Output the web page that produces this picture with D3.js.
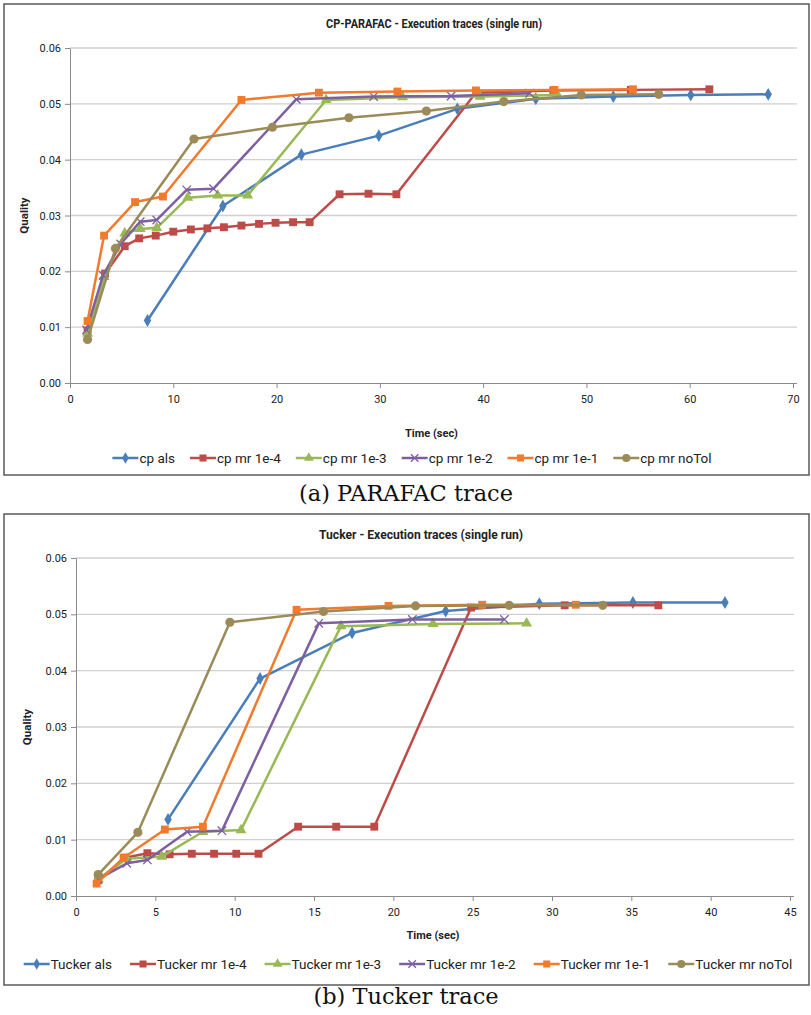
<!DOCTYPE html>
<html>
<head>
<meta charset="utf-8">
<script src="https://cdn.jsdelivr.net/npm/d3@7/dist/d3.min.js"></script>
<style>
  body { margin: 0; background: #fff; }
</style>
</head>
<body>
<div id="chart"></div>
<script>
// ---- PARAFAC trace (time sec, quality) ----
var cpAls    = [[7.5,0.0112],[14.8,0.0317],[22.4,0.0409],[29.9,0.0443],[37.5,0.0491],[45.1,0.0509],[52.6,0.0513],[60.1,0.0516],[67.6,0.0517]];
var cpMr1e4  = [[1.7,0.0094],[3.4,0.0196],[5.3,0.0245],[6.7,0.0259],[8.3,0.0264],[10.0,0.0271],[11.7,0.0275],[13.3,0.0277],[14.9,0.0279],[16.6,0.0282],[18.3,0.0285],[19.9,0.0287],[21.6,0.0288],[23.2,0.0288],[26.1,0.0338],[28.9,0.0339],[31.6,0.0338],[39.3,0.0520],[46.8,0.0524],[54.3,0.0525],[61.9,0.0526]];
var cpMr1e3  = [[1.7,0.0089],[3.3,0.0190],[5.3,0.0268],[6.8,0.0276],[8.4,0.0278],[11.4,0.0332],[14.3,0.0336],[17.2,0.0336],[24.8,0.0507],[32.2,0.0512],[39.7,0.0513],[47.2,0.0516]];
var cpMr1e2  = [[1.6,0.0095],[3.2,0.0193],[4.9,0.0249],[6.8,0.0289],[8.4,0.0292],[11.3,0.0346],[13.9,0.0348],[21.9,0.0508],[29.4,0.0513],[36.9,0.0514],[44.5,0.0519]];
var cpMr1e1  = [[1.7,0.0111],[3.3,0.0264],[6.3,0.0324],[9.0,0.0334],[16.6,0.0507],[24.1,0.0520],[31.7,0.0522],[39.3,0.0524],[46.9,0.0525],[54.5,0.0526]];
var cpMrNoTol= [[1.7,0.0078],[4.4,0.0241],[12.0,0.0437],[19.6,0.0458],[27.0,0.0475],[34.5,0.0487],[42.0,0.0504],[49.5,0.0516],[57.0,0.0517]];

// ---- Tucker trace ----
var tkAls    = [[5.8,0.0136],[11.6,0.0386],[17.4,0.0467],[23.3,0.0506],[29.2,0.0519],[35.1,0.0521],[40.9,0.0521]];
var tkMr1e4  = [[1.4,0.0028],[3.1,0.0068],[4.5,0.0076],[5.9,0.0074],[7.3,0.0075],[8.7,0.0075],[10.1,0.0075],[11.5,0.0075],[14.0,0.0123],[16.4,0.0123],[18.8,0.0123],[24.9,0.0512],[30.8,0.0516],[36.7,0.0516]];
var tkMr1e3  = [[1.4,0.0030],[3.2,0.0066],[5.4,0.0070],[8.0,0.0114],[10.4,0.0117],[16.7,0.0479],[22.5,0.0483],[28.4,0.0484]];
var tkMr1e2  = [[1.4,0.0030],[3.2,0.0058],[4.5,0.0064],[7.0,0.0114],[9.2,0.0116],[15.3,0.0484],[21.2,0.0491],[27.0,0.0491]];
var tkMr1e1  = [[1.3,0.0022],[3.0,0.0068],[5.6,0.0118],[8.0,0.0123],[13.9,0.0508],[19.7,0.0515],[25.6,0.0517],[31.5,0.0517]];
var tkMrNoTol= [[1.4,0.0038],[3.9,0.0113],[9.7,0.0486],[15.6,0.0505],[21.4,0.0515],[27.3,0.0516],[33.2,0.0516]];

var cpNames = ["cp als", "cp mr 1e-4", "cp mr 1e-3", "cp mr 1e-2", "cp mr 1e-1", "cp mr noTol"];
var tkNames = ["Tucker als", "Tucker mr 1e-4", "Tucker mr 1e-3", "Tucker mr 1e-2", "Tucker mr 1e-1", "Tucker mr noTol"];
var yTicks = [0, 0.01, 0.02, 0.03, 0.04, 0.05, 0.06];
var cpXTicks = [0, 10, 20, 30, 40, 50, 60, 70];
var tkXTicks = [0, 5, 10, 15, 20, 25, 30, 35, 40, 45];

var colors  = ["#4a7ebb", "#be4b48", "#98b954", "#7d60a0", "#f27a2c", "#9a8b58"];
var markers = ["diamond", "square", "triangle", "x", "square", "circle"];

var font = "Roboto, 'Open Sans', sans-serif";

var svg = d3.select('#chart').append('svg')
    .attr('width', 811)
    .attr('height', 1015);

function symbolFor(kind, scale) {
    scale = scale || 1;
    if (kind === 'diamond') return d3.symbol().type(d3.symbolDiamond).size(48 * scale)();
    if (kind === 'square') return d3.symbol().type(d3.symbolSquare).size(62 * scale)();
    if (kind === 'triangle') return d3.symbol().type(d3.symbolTriangle).size(52 * scale)();
    if (kind === 'x') return d3.symbol().type(d3.symbolX).size(48 * scale)();
    return d3.symbol().type(d3.symbolCircle).size(66 * scale)();
}

function drawMarker(g, kind, color, x, y, scale) {
    var p = g.append('path')
        .attr('d', symbolFor(kind, scale))
        .attr('transform', 'translate(' + x + ',' + y + ')');
    if (kind === 'x') {
        p.attr('fill', 'none').attr('stroke', color).attr('stroke-width', 1.3);
    } else {
        p.attr('fill', color);
    }
}

function drawTrace(cfg) {
    var g = svg.append('g');

    // outer frame
    g.append('rect')
        .attr('x', cfg.frame[0]).attr('y', cfg.frame[1])
        .attr('width', cfg.frame[2]).attr('height', cfg.frame[3])
        .attr('fill', 'none').attr('stroke', '#5a5a5a').attr('stroke-width', 1.5);

    var xScale = d3.scaleLinear().domain([0, cfg.xMax]).range([cfg.left, cfg.right]);
    var yScale = d3.scaleLinear().domain([0, 0.06]).range([cfg.bottom, cfg.top]);

    // gridlines
    g.append('g').selectAll('line')
        .data(yTicks.slice(1))
        .enter().append('line')
        .attr('x1', cfg.left).attr('x2', cfg.gridRight)
        .attr('y1', d => yScale(d)).attr('y2', d => yScale(d))
        .attr('stroke', '#d0d0d0').attr('stroke-width', 1.4);

    var yAxis = d3.axisLeft(yScale).tickValues(yTicks).tickFormat(d3.format('.2f'))
        .tickSizeInner(5).tickSizeOuter(0).tickPadding(4);
    var yAxisGroup = g.append('g').attr('transform', 'translate(' + cfg.left + ',0)').call(yAxis);
    yAxisGroup.selectAll('path').attr('stroke', '#8a8a8a');
    yAxisGroup.selectAll('line').attr('stroke', '#8a8a8a');
    yAxisGroup.selectAll('text').attr('fill', '#222').attr('font-size', 11).attr('font-family', font);

    var xAxis = d3.axisBottom(xScale).tickValues(cfg.xTicks).tickFormat(d3.format('d'))
        .tickSizeInner(5).tickSizeOuter(0).tickPadding(7);
    var xAxisGroup = g.append('g').attr('transform', 'translate(0,' + cfg.bottom + ')').call(xAxis);
    xAxisGroup.select('.domain').attr('d', 'M' + cfg.left + ',0.5H' + cfg.gridRight);
    xAxisGroup.selectAll('path').attr('stroke', '#8a8a8a');
    xAxisGroup.selectAll('line').attr('stroke', '#8a8a8a');
    xAxisGroup.selectAll('text').attr('fill', '#222').attr('font-size', 11).attr('font-family', font);

    // titles (Calibri-like narrow look)
    g.append('text')
        .attr('x', cfg.titleX).attr('y', cfg.titleY)
        .attr('text-anchor', 'middle')
        .attr('font-family', font).attr('font-weight', 'bold').attr('font-size', 12.5)
        .attr('textLength', cfg.titleLen).attr('lengthAdjust', 'spacingAndGlyphs')
        .attr('fill', '#222')
        .text(cfg.title);

    g.append('text')
        .attr('transform', 'translate(' + cfg.qualityX + ',' + ((cfg.top + cfg.bottom) / 2) + ') rotate(-90)')
        .attr('text-anchor', 'middle')
        .attr('font-family', font).attr('font-weight', 'bold').attr('font-size', 11.5)
        .attr('fill', '#222')
        .text('Quality');

    g.append('text')
        .attr('x', (cfg.left + cfg.right) / 2).attr('y', cfg.timeY)
        .attr('text-anchor', 'middle')
        .attr('font-family', font).attr('font-weight', 'bold').attr('font-size', 11)
        .attr('fill', '#222')
        .text('Time (sec)');

    var line = d3.line().x(d => xScale(d[0])).y(d => yScale(d[1]));

    cfg.series.forEach(function(s, i) {
        g.append('path')
            .datum(s)
            .attr('d', line)
            .attr('fill', 'none')
            .attr('stroke', colors[i])
            .attr('stroke-width', 2.5)
            .attr('stroke-linejoin', 'round');
        s.forEach(function(d) {
            drawMarker(g, markers[i], colors[i], xScale(d[0]), yScale(d[1]));
        });
    });

    // legend
    var leg = g.append('g');
    var xPos = 0;
    cfg.names.forEach(function(name, i) {
        var item = leg.append('g').attr('transform', 'translate(' + xPos + ',0)');
        item.append('line')
            .attr('x1', 0).attr('x2', 26).attr('y1', 0).attr('y2', 0)
            .attr('stroke', colors[i]).attr('stroke-width', 2.5);
        drawMarker(item, markers[i], colors[i], 13, 0, 0.8);
        var t = item.append('text')
            .attr('x', 27).attr('y', 4.5)
            .attr('font-family', font).attr('font-size', 13.5)
            .attr('fill', '#222')
            .text(name);
        xPos += 27 + t.node().getComputedTextLength() + cfg.legendGap;
    });
    var legWidth = xPos - cfg.legendGap;
    leg.attr('transform', 'translate(' + (cfg.legendCenter - legWidth / 2) + ',' + cfg.legendY + ')');

    // caption
    svg.append('text')
        .attr('x', 406).attr('y', cfg.captionY)
        .attr('text-anchor', 'middle')
        .attr('font-family', "'DejaVu Serif', serif").attr('font-size', 22.5)
        .attr('fill', '#111')
        .text(cfg.caption);
}

drawTrace({
    frame: [4, 4, 805, 471],
    left: 70, right: 793, gridRight: 797, top: 48, bottom: 383,
    xMax: 70, xTicks: cpXTicks,
    title: 'CP-PARAFAC - Execution traces (single run)', titleX: 434, titleY: 28, titleLen: 216,
    qualityX: 28, timeY: 437,
    series: [cpAls, cpMr1e4, cpMr1e3, cpMr1e2, cpMr1e1, cpMrNoTol],
    names: cpNames, legendY: 458, legendCenter: 412, legendGap: 15,
    caption: '(a) PARAFAC trace', captionY: 501
});

drawTrace({
    frame: [4, 514, 805, 471],
    left: 76, right: 790, gridRight: 794, top: 558, bottom: 896,
    xMax: 45, xTicks: tkXTicks,
    title: 'Tucker - Execution traces (single run)', titleX: 421, titleY: 539, titleLen: 204,
    qualityX: 31, timeY: 939,
    series: [tkAls, tkMr1e4, tkMr1e3, tkMr1e2, tkMr1e1, tkMrNoTol],
    names: tkNames, legendY: 964, legendCenter: 408, legendGap: 18,
    caption: '(b) Tucker trace', captionY: 1004
});
</script>
</body>
</html>
